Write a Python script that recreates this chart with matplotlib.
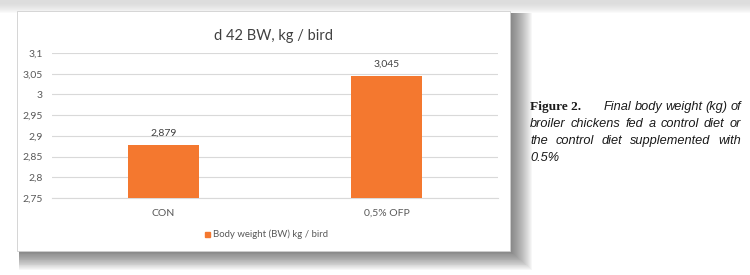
import matplotlib
matplotlib.use("Agg")
import matplotlib.pyplot as plt
from matplotlib.patches import Rectangle

# data
groups = ["CON", "0,5% OFP"]
body_weight = [2.879, 3.045]
value_labels = ["2,879", "3,045"]
yticks = [2.75, 2.8, 2.85, 2.9, 2.95, 3.0, 3.05, 3.1]
ytick_labels = ["2,75", "2,8", "2,85", "2,9", "2,95", "3", "3,05", "3,1"]
series_name = "Body weight (BW) kg / bird"
chart_title = "d 42 BW, kg / bird"

caption_lines = [
    "Final body weight (kg) of",
    "broiler chickens fed a control diet or",
    "the control diet supplemented with",
    "0.5%",
]

orange = "#f4782f"
gray_txt = "#595959"

plt.rcParams["font.family"] = ["Lato", "DejaVu Sans"]

W, H = 750, 275
fig = plt.figure(figsize=(7.5, 2.75), dpi=100)
fig.patch.set_facecolor("white")

def px(x0, y0, x1, y1):
    # pixel box (top-left origin) -> figure fraction rect
    return (x0 / W, 1 - y1 / H, (x1 - x0) / W, (y1 - y0) / H)

def add_box(x0, y0, x1, y1, **kw):
    r = px(x0, y0, x1, y1)
    p = Rectangle((r[0], r[1]), r[2], r[3], transform=fig.transFigure, **kw)
    fig.patches.append(p)
    return p

# light top band
for i in range(10):
    add_box(0, 0, W, 13 - i, color="#d0d0d0", alpha=0.1, lw=0, zorder=0)
# soft shadow of the chart card
for g in range(22, 0, -1):
    add_box(19, 13, 510 + g, 251 + g * 0.85, color="#303030", alpha=0.035, lw=0, zorder=0.5)
add_box(17, 11, 510, 251, facecolor="white", edgecolor="#cfcfcf", lw=0.6, zorder=1)

ax = fig.add_axes(px(52, 53, 498, 198))
ax.set_facecolor("none")
ax.set_zorder(2)
x = range(len(groups))
bars = ax.bar(x, body_weight, width=0.315, color=orange, zorder=3)
ax.set_xlim(-0.5, 1.5)
ax.set_ylim(2.75, 3.1)
ax.set_yticks(yticks)
ax.set_yticklabels(ytick_labels)
ax.set_xticks(list(x))
ax.set_xticklabels(groups)
ax.tick_params(axis="both", length=0, labelsize=7.5, labelcolor=gray_txt)
ax.tick_params(axis="y", pad=6.5)
ax.tick_params(axis="x", pad=8)
ax.grid(axis="y", color="#d9d9d9", lw=0.8, zorder=0)
for s in ["top", "right", "left"]:
    ax.spines[s].set_visible(False)
ax.spines["bottom"].set_color("#d9d9d9")
ax.spines["bottom"].set_linewidth(0.8)
for b, lbl in zip(bars, value_labels):
    ax.annotate(lbl, (b.get_x() + b.get_width() / 2, b.get_height()),
                xytext=(0, 5), textcoords="offset points", ha="center", va="bottom",
                fontsize=7.5, color="#404040")

fig.text(274 / W, 1 - 36 / H, chart_title, ha="center", va="center",
         fontsize=10.5, color="#404040", zorder=5)

# legend
add_box(205, 232, 210, 237, color=orange, zorder=5)
fig.text(213 / W, 1 - 234.5 / H, series_name, ha="left", va="center",
         fontsize=6.9, color=gray_txt, zorder=5)

# caption, justified by hand
fig.canvas.draw()
rend = fig.canvas.get_renderer()
left, right = 530, 741
ys = [107, 124, 141, 158]
cap_font = dict(family=["Liberation Sans"], style="italic", fontsize=9.2, color="#1a1a1a")
head = fig.text(left / W, 1 - ys[0] / H, "Figure 2.", ha="left", va="center",
                family=["Liberation Serif"], weight="bold", fontsize=9.6, color="#1a1a1a")
for i, line in enumerate(caption_lines):
    words = line.split()
    start = left + (74 if i == 0 else 0)
    arts = [fig.text(0, 1 - ys[i] / H, w, ha="left", va="center", **cap_font) for w in words]
    widths = [a.get_window_extent(rend).width for a in arts]
    if i < len(caption_lines) - 1 and len(words) > 1:
        gap = (right - start - sum(widths)) / (len(words) - 1)
    else:
        gap = 3
    xpos = start
    for a, w in zip(arts, widths):
        a.set_x(xpos / W)
        xpos += w + gap

fig.savefig("out.png", dpi=100, facecolor=fig.get_facecolor())
